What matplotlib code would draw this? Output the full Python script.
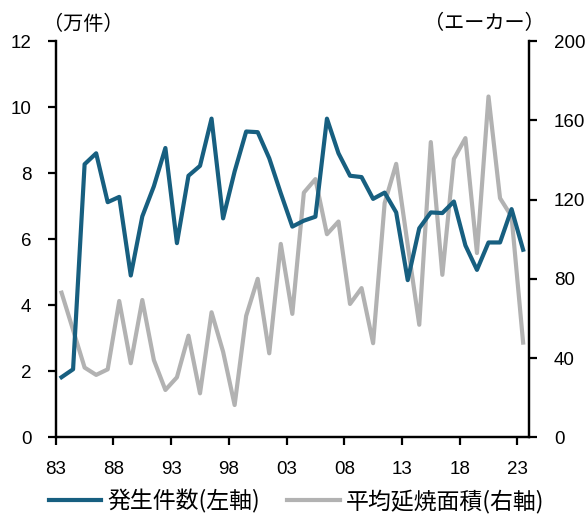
import matplotlib.pyplot as plt
import numpy as np

plt.rcParams['font.family'] = ['Noto Sans CJK JP', 'DejaVu Sans']

years = np.arange(1983, 2024)

# 発生件数 (万件), left axis
fires = [1.82, 2.06, 8.27, 8.60, 7.12, 7.28, 4.90, 6.69, 7.60, 8.76,
         5.88, 7.92, 8.22, 9.65, 6.63, 8.05, 9.26, 9.24, 8.45, 7.39,
         6.38, 6.56, 6.68, 9.65, 8.60, 7.92, 7.88, 7.22, 7.41, 6.81,
         4.76, 6.33, 6.81, 6.79, 7.14, 5.81, 5.07, 5.90, 5.90, 6.91,
         5.68]

# 平均延焼面積 (エーカー), right axis
area = [73.0, 54.2, 35.2, 31.5, 34.3, 68.8, 37.4, 69.3, 39.0, 23.9,
        30.3, 51.3, 22.2, 63.1, 43.2, 16.3, 61.3, 80.0, 42.4, 97.6,
        62.3, 123.5, 130.3, 102.5, 108.9, 67.3, 75.3, 47.5, 118.2, 138.0,
        97.0, 56.8, 149.0, 82.0, 140.5, 151.0, 93.0, 172.0, 120.7, 111.4,
        47.8]

tick_years = [1983, 1988, 1993, 1998, 2003, 2008, 2013, 2018, 2023]
tick_labels = ['83', '88', '93', '98', '03', '08', '13', '18', '23']

blue = '#175f80'
grey = '#b2b2b2'

fig = plt.figure(figsize=(5.87, 5.16), dpi=100)
ax = fig.add_axes([0.095, 0.1525, 0.806, 0.768])
ax2 = ax.twinx()

x = years + 0.5
l2, = ax2.plot(x, area, color=grey, lw=3.0, label='平均延焼面積(右軸)')
l1, = ax.plot(x, fires, color=blue, lw=3.0, label='発生件数(左軸)')

# keep blue line above the grey one
ax.set_zorder(ax2.get_zorder() + 1)
ax.patch.set_visible(False)

ax.set_xlim(1983, 2024)
ax.set_ylim(0, 12)
ax.set_yticks(np.arange(0, 13, 2))
ax2.set_ylim(0, 200)
ax2.set_yticks(np.arange(0, 201, 40))
ax.set_xticks(tick_years)
ax.set_xticklabels(tick_labels)

for a in (ax, ax2):
    a.spines['top'].set_visible(False)
    for s in a.spines.values():
        s.set_linewidth(1.6)
    a.tick_params(width=1.6, length=6, labelsize=13.5, direction='out')
    for lab in a.get_xticklabels() + a.get_yticklabels():
        lab.set_family('Liberation Sans')
ax.tick_params(axis='x', pad=11)
ax.tick_params(axis='y', pad=11.5)
ax2.tick_params(axis='y', pad=12)

fig.text(43 / 587, 1 - 24 / 516, '（万件）', fontsize=14.5, ha='left', va='center')
fig.text(545 / 587, 1 - 24 / 516, '（エーカー）', fontsize=14.5, ha='right', va='center')

fig.legend(handles=[l1, l2], loc='center', bbox_to_anchor=(0.505, 1 - 501 / 516),
           ncol=2, frameon=False, fontsize=16.5, handlelength=2.3,
           handletextpad=0.25, columnspacing=1.2, borderpad=0, borderaxespad=0)

fig.savefig('out.png', dpi=100)
